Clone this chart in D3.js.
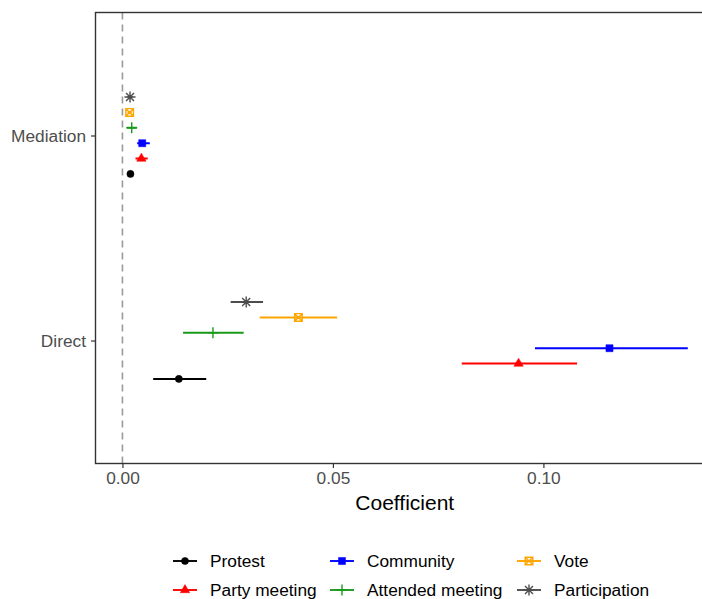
<!DOCTYPE html>
<head>
    <title>Coefficient</title>
    <script src="https://cdn.jsdelivr.net/npm/d3@7"></script>
    <style>
        body { margin: 0; background: #fff; }
        text { font-family: "Liberation Sans", Arial, Helvetica, sans-serif; }
    </style>
</head>
<body>
<div id="container"></div>

<script>

// Données
const groups = ["Protest", "Party meeting", "Community", "Attended meeting", "Vote", "Participation"];
const effects = ["Mediation", "Direct"];
const colors = ["#000000", "#ff0000", "#0000ff", "#1a9a1a", "#ffa500", "#4d4d4d"];

const directEst = [0.0134, 0.0941, 0.1157, 0.0215, 0.0418, 0.0294];
const directLo  = [0.0073, 0.0806, 0.0980, 0.0144, 0.0326, 0.0257];
const directHi  = [0.0199, 0.1080, 0.1343, 0.0288, 0.0510, 0.0334];

const mediationEst = [0.0019, 0.0045, 0.0047, 0.0022, 0.0017, 0.0018];
const mediationLo  = [0.0014, 0.0031, 0.0035, 0.0011, 0.0012, 0.0012];
const mediationHi  = [0.0024, 0.0060, 0.0065, 0.0034, 0.0022, 0.0024];

const xTicks = [0, 0.05, 0.10];

// Tableau long pour le plot
const data = [];
groups.forEach((g, i) => {
    data.push({ effect: "Direct", group: g, est: directEst[i], lo: directLo[i], hi: directHi[i] });
    data.push({ effect: "Mediation", group: g, est: mediationEst[i], lo: mediationLo[i], hi: mediationHi[i] });
});

const W = 702, H = 599;
const panel = { left: 95.5, top: 12.5, right: 716, bottom: 463.5 };
const fontSize = "17.3px";

const svg = d3.select("#container")
    .append("svg")
    .attr("width", W)
    .attr("height", H);

// Échelles
const x = d3.scaleLinear()
    .domain([-0.0064, 0.141])
    .range([panel.left, panel.right]);

const y = d3.scalePoint()
    .domain(effects)
    .range([panel.top, panel.bottom])
    .padding(0.6);

const dodge = d3.scalePoint()
    .domain(groups.slice().reverse())
    .range([-0.1875 * y.step(), 0.1875 * y.step()]);

const color = d3.scaleOrdinal().domain(groups).range(colors);

// Formes des points (comme les shapes de ggplot)
function shapePath(g) {
    const p = d3.path();
    if (g === "Protest") {
        return d3.symbol(d3.symbolCircle, 40)();
    } else if (g === "Party meeting") {
        return d3.symbol(d3.symbolTriangle, 38)();
    } else if (g === "Community") {
        return d3.symbol(d3.symbolSquare, 50)();
    } else if (g === "Attended meeting") {
        p.moveTo(-5.5, 0); p.lineTo(5.5, 0);
        p.moveTo(0, -5.5); p.lineTo(0, 5.5);
    } else if (g === "Vote") {
        p.rect(-3.8, -3.8, 7.6, 7.6);
        p.moveTo(-3.8, -3.8); p.lineTo(3.8, 3.8);
        p.moveTo(3.8, -3.8); p.lineTo(-3.8, 3.8);
    } else {
        p.moveTo(-5.5, 0); p.lineTo(5.5, 0);
        p.moveTo(0, -5.5); p.lineTo(0, 5.5);
        p.moveTo(-4, -4); p.lineTo(4, 4);
        p.moveTo(4, -4); p.lineTo(-4, 4);
    }
    return p.toString();
}
const filled = g => ["Protest", "Party meeting", "Community"].includes(g);

function drawMarker(sel, g) {
    sel.append("path")
        .attr("d", shapePath(g))
        .attr("fill", filled(g) ? color(g) : "none")
        .attr("stroke", color(g))
        .attr("stroke-width", filled(g) ? 0.5 : 1.4);
}

// Clip du panneau
svg.append("defs").append("clipPath")
    .attr("id", "clip")
    .append("rect")
    .attr("x", panel.left).attr("y", panel.top)
    .attr("width", panel.right - panel.left)
    .attr("height", panel.bottom - panel.top);

const plot = svg.append("g").attr("clip-path", "url(#clip)");

// Ligne verticale à 0
plot.append("line")
    .attr("x1", x(0)).attr("x2", x(0))
    .attr("y1", panel.top).attr("y2", panel.bottom)
    .attr("stroke", "#999")
    .attr("stroke-width", 1.6)
    .attr("stroke-dasharray", "7,5");

// Intervalles
plot.selectAll(".ci")
    .data(data)
    .enter().append("line")
    .attr("class", "ci")
    .attr("x1", d => x(d.lo))
    .attr("x2", d => x(d.hi))
    .attr("y1", d => y(d.effect) + dodge(d.group))
    .attr("y2", d => y(d.effect) + dodge(d.group))
    .attr("stroke", d => color(d.group))
    .attr("stroke-width", 1.9);

// Points
plot.selectAll(".pt")
    .data(data)
    .enter().append("g")
    .attr("class", "pt")
    .attr("transform", d => `translate(${x(d.est)},${y(d.effect) + dodge(d.group)})`)
    .each(function(d) { drawMarker(d3.select(this), d.group); });

// Cadre du panneau
svg.append("rect")
    .attr("x", panel.left).attr("y", panel.top)
    .attr("width", panel.right - panel.left)
    .attr("height", panel.bottom - panel.top)
    .attr("fill", "none")
    .attr("stroke", "#333")
    .attr("stroke-width", 1.4);

// Axe x
const xAxis = svg.append("g")
    .attr("transform", `translate(0,${panel.bottom})`)
    .call(d3.axisBottom(x).tickValues(xTicks).tickFormat(d3.format(".2f")).tickSize(4.5).tickSizeOuter(0));
xAxis.select(".domain").remove();
xAxis.selectAll(".tick line").attr("stroke", "#333").attr("stroke-width", 1.2);
xAxis.selectAll(".tick text")
    .attr("fill", "#4d4d4d")
    .attr("font-size", fontSize)
    .attr("font-family", "Liberation Sans, Arial, sans-serif")
    .attr("y", 8.5);

// Axe y
const yAxis = svg.append("g")
    .attr("transform", `translate(${panel.left},0)`)
    .call(d3.axisLeft(y).tickSize(4.5).tickSizeOuter(0));
yAxis.select(".domain").remove();
yAxis.selectAll(".tick line").attr("stroke", "#333").attr("stroke-width", 1.2);
yAxis.selectAll(".tick text")
    .attr("fill", "#4d4d4d")
    .attr("font-size", fontSize)
    .attr("font-family", "Liberation Sans, Arial, sans-serif")
    .attr("x", -9.5);

// Titre de l'axe
svg.append("text")
    .attr("x", (panel.left + 702) / 2 + 6)
    .attr("y", 510)
    .attr("text-anchor", "middle")
    .attr("font-size", "21px")
    .attr("fill", "#000")
    .text("Coefficient");

// Légende (remplie par colonnes, 3 colonnes x 2 lignes)
const legKeyX = [173, 330, 517];
const legRowY = [561, 590];
const legend = svg.append("g");
groups.forEach((g, i) => {
    const col = Math.floor(i / 2), row = i % 2;
    const item = legend.append("g")
        .attr("transform", `translate(${legKeyX[col]},${legRowY[row]})`);
    item.append("line")
        .attr("x1", 0).attr("x2", 24)
        .attr("stroke", color(g))
        .attr("stroke-width", 1.9);
    drawMarker(item.append("g").attr("transform", "translate(12,0)"), g);
    item.append("text")
        .attr("x", 37)
        .attr("dy", "0.35em")
        .attr("font-size", fontSize)
        .attr("fill", "#000")
        .text(g);
});

</script>
</body>
